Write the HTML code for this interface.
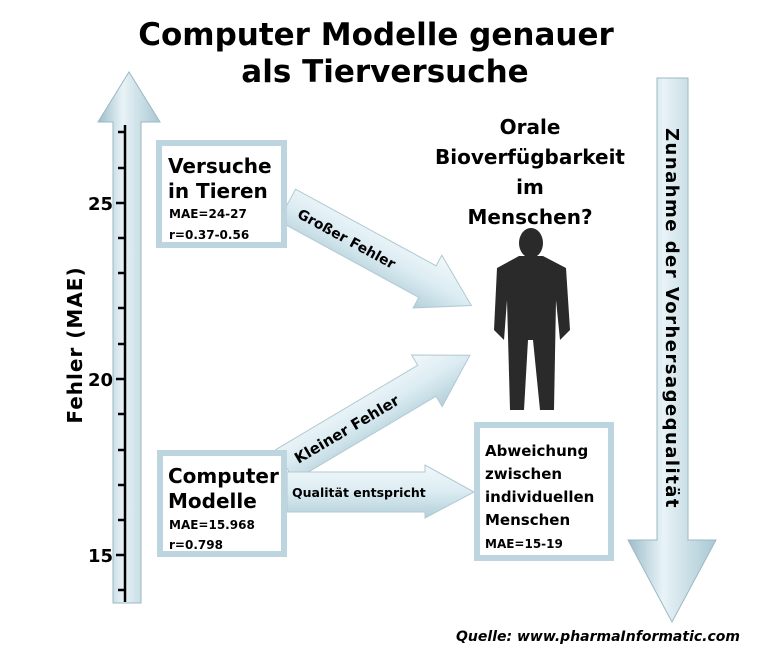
<!DOCTYPE html>
<html><head><meta charset="utf-8"><style>body{margin:0;background:#fff}svg{display:block}</style></head><body>
<svg width="762" height="655" viewBox="0 0 762 655" xmlns="http://www.w3.org/2000/svg" font-family="DejaVu Sans, Liberation Sans, sans-serif" font-weight="bold">
<defs>
<linearGradient id="gv" x1="0" x2="1" y1="0" y2="0"><stop offset="0" stop-color="#9dbdc9"/><stop offset="0.4" stop-color="#e8f3f7"/><stop offset="1" stop-color="#a9c8d3"/></linearGradient>
<linearGradient id="gh" x1="0" x2="0" y1="0" y2="1"><stop offset="0" stop-color="#f2f8fa"/><stop offset="0.5" stop-color="#dbecf2"/><stop offset="1" stop-color="#b4cfd9"/></linearGradient>
</defs>
<text x="376" y="45" font-size="31" text-anchor="middle">Computer Modelle genauer</text>
<text x="385" y="82" font-size="31" text-anchor="middle">als Tierversuche</text>
<!-- left arrow -->
<path d="M113 122 L98 122 L129 72 L160 122 L141 122 L141 603 L113 603 Z" fill="url(#gv)" stroke="#9bb8c3"/>
<line x1="125" y1="125" x2="125" y2="602" stroke="#000" stroke-width="2.5"/>
<g stroke="#000" stroke-width="2.5">
<line x1="118" y1="132" x2="125" y2="132"/><line x1="118" y1="168" x2="125" y2="168"/><line x1="116" y1="203" x2="125" y2="203"/><line x1="118" y1="238" x2="125" y2="238"/><line x1="118" y1="273" x2="125" y2="273"/><line x1="118" y1="308" x2="125" y2="308"/><line x1="118" y1="344" x2="125" y2="344"/><line x1="116" y1="379" x2="125" y2="379"/><line x1="118" y1="414" x2="125" y2="414"/><line x1="118" y1="450" x2="125" y2="450"/><line x1="118" y1="485" x2="125" y2="485"/><line x1="118" y1="520" x2="125" y2="520"/><line x1="116" y1="555" x2="125" y2="555"/><line x1="118" y1="590" x2="125" y2="590"/>
</g>
<g font-size="18" text-anchor="end"><text x="113" y="210">25</text><text x="113" y="386">20</text><text x="113" y="562">15</text></g>
<text transform="translate(82,345) rotate(-90)" font-size="20" text-anchor="middle" letter-spacing="1">Fehler (MAE)</text>
<!-- right arrow -->
<path d="M657 78 L688 78 L688 540 L716 540 L672 622 L628 540 L657 540 Z" fill="url(#gv)" stroke="#9bb8c3"/>
<text transform="translate(666,128) rotate(90)" font-size="18" letter-spacing="0.5" textLength="380">Zunahme der Vorhersagequalität</text>
<!-- diagonal arrows -->
<g transform="translate(287,205) rotate(28.6)"><path d="M0 -18 L160 -18 L160 -30 L210 0 L160 30 L160 18 L0 18 Z" fill="url(#gh)" stroke="#b0c9d2"/><text x="14" y="6" font-size="14">Großer Fehler</text></g>
<g transform="translate(285,465) rotate(-30.7)"><path d="M0 -18 L165 -18 L165 -30 L215 0 L165 30 L165 18 L0 18 Z" fill="url(#gh)" stroke="#b0c9d2"/><text x="12" y="6" font-size="15">Kleiner Fehler</text></g>
<path d="M287 472 L425 472 L425 465 L474 492 L425 518 L425 512 L287 512 Z" fill="url(#gh)" stroke="#b0c9d2"/>
<text x="292" y="497" font-size="12.5">Qualität entspricht</text>
<!-- boxes -->
<g fill="#fff" stroke="#bcd5de" stroke-width="6">
<rect x="159" y="143" width="125" height="102"/><rect x="160" y="453" width="124" height="101"/><rect x="477" y="425" width="134" height="133"/>
</g>
<text x="168" y="173" font-size="20">Versuche</text><text x="168" y="198" font-size="20">in Tieren</text>
<text x="169" y="218" font-size="12">MAE=24-27</text><text x="169" y="239" font-size="12">r=0.37-0.56</text>
<text x="168" y="483" font-size="20">Computer</text><text x="168" y="508" font-size="20">Modelle</text>
<text x="169" y="529" font-size="12">MAE=15.968</text><text x="169" y="549" font-size="12">r=0.798</text>
<g font-size="15"><text x="485" y="456">Abweichung</text><text x="485" y="479">zwischen</text><text x="485" y="502">individuellen</text><text x="485" y="525">Menschen</text></g>
<text x="485" y="548" font-size="12">MAE=15-19</text>
<!-- title right -->
<g font-size="20" text-anchor="middle"><text x="530" y="134">Orale</text><text x="530" y="164">Bioverfügbarkeit</text><text x="530" y="194">im</text><text x="530" y="224">Menschen?</text></g>
<!-- person -->
<g fill="#2a2a2a">
<ellipse cx="531" cy="243" rx="12" ry="15"/>
<path d="M519 256 L543 256 L566 268 L570 330 L560 340 L556 300 L554 410 L540 410 L533 340 L528 340 L524 410 L510 410 L507 300 L504 340 L494 330 L497 268 Z"/>
</g>
<text x="740" y="641" font-size="14" font-style="italic" text-anchor="end">Quelle: www.pharmaInformatic.com</text>
</svg>
</body></html>
